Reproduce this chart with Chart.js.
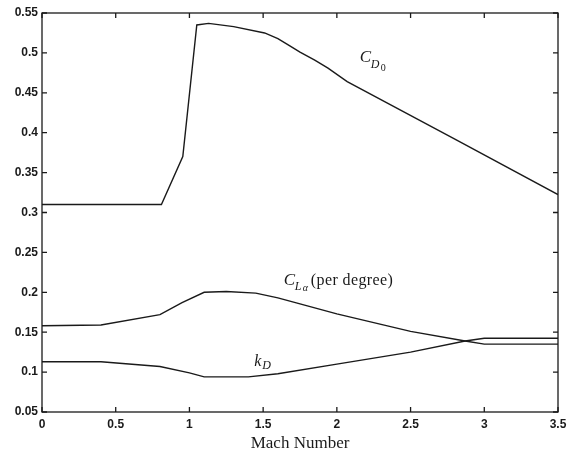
<!DOCTYPE html>
<html>
<head>
<meta charset="utf-8">
<script src="https://cdn.jsdelivr.net/npm/chart.js@4/dist/chart.umd.min.js"></script>
<style>
html,body{margin:0;padding:0;background:#fff;}
#wrap{width:569px;height:454px;}
</style>
</head>
<body>
<div id="wrap"><canvas id="c" width="569" height="454"></canvas></div>
<script>
// Data
const cd0Mach   = [0, 0.81, 0.955, 1.05, 1.13, 1.3, 1.51, 1.6, 1.67, 1.75, 1.85, 1.94, 2.07, 2.81, 3.5];
const cd0Values = [0.31, 0.31, 0.37, 0.535, 0.537, 0.533, 0.525, 0.518, 0.51, 0.501, 0.491, 0.481, 0.464, 0.391, 0.3225];

const claMach   = [0, 0.4, 0.8, 0.95, 1.1, 1.25, 1.45, 1.6, 1.8, 2.0, 2.5, 2.87, 3.0, 3.5];
const claValues = [0.158, 0.159, 0.172, 0.187, 0.2, 0.201, 0.199, 0.193, 0.183, 0.173, 0.151, 0.139, 0.135, 0.135];

const kdMach    = [0, 0.4, 0.8, 1.0, 1.1, 1.4, 1.6, 2.0, 2.5, 2.87, 3.0, 3.5];
const kdValues  = [0.113, 0.113, 0.107, 0.099, 0.094, 0.094, 0.098, 0.11, 0.125, 0.139, 0.1425, 0.1425];

const xTickLabels = ['0', '0.5', '1', '1.5', '2', '2.5', '3', '3.5'];
const yTickLabels = ['0.05', '0.1', '0.15', '0.2', '0.25', '0.3', '0.35', '0.4', '0.45', '0.5', '0.55'];

const pts = (xs, ys) => xs.map((x, i) => ({x: x, y: ys[i]}));

const lineStyle = {borderColor: '#1a1a1a', borderWidth: 1.4, pointRadius: 0, tension: 0, fill: false};

const framePlugin = {
  id: 'frame',
  afterDatasetsDraw(chart) {
    const {ctx, chartArea: a, scales} = chart;
    ctx.save();
    ctx.strokeStyle = '#1a1a1a';
    ctx.lineWidth = 1.3;
    ctx.strokeRect(a.left, a.top, a.right - a.left, a.bottom - a.top);
    const L = 5;
    ctx.beginPath();
    scales.x.ticks.forEach(t => {
      const px = scales.x.getPixelForValue(t.value);
      ctx.moveTo(px, a.bottom); ctx.lineTo(px, a.bottom - L);
      ctx.moveTo(px, a.top); ctx.lineTo(px, a.top + L);
    });
    scales.y.ticks.forEach(t => {
      const py = scales.y.getPixelForValue(t.value);
      ctx.moveTo(a.left, py); ctx.lineTo(a.left + L, py);
      ctx.moveTo(a.right, py); ctx.lineTo(a.right - L, py);
    });
    ctx.stroke();

    // curve labels
    const X = v => scales.x.getPixelForValue(v);
    const Y = v => scales.y.getPixelForValue(v);
    ctx.fillStyle = '#1a1a1a';
    ctx.textBaseline = 'alphabetic';
    ctx.textAlign = 'left';
    const serif = '"Liberation Serif", "DejaVu Serif", serif';
    // C_D0
    let x0 = X(2.155), y0 = Y(0.488);
    ctx.font = 'italic 17px ' + serif;
    ctx.fillText('C', x0, y0);
    ctx.font = 'italic 12px ' + serif;
    ctx.fillText('D', x0 + 11, y0 + 6);
    ctx.font = '10px ' + serif;
    ctx.fillText('0', x0 + 21, y0 + 9);
    // C_Lalpha (per degree)
    x0 = X(1.64); y0 = Y(0.2095);
    ctx.font = 'italic 17px ' + serif;
    ctx.fillText('C', x0, y0);
    ctx.font = 'italic 12px ' + serif;
    ctx.fillText('L', x0 + 11, y0 + 5);
    ctx.font = 'italic 10px ' + serif;
    ctx.fillText('\u03b1', x0 + 19, y0 + 6);
    ctx.font = '16px ' + serif;
    try { ctx.letterSpacing = '0.4px'; } catch (e) {}
    ctx.fillText('(per degree)', x0 + 27, y0);
    try { ctx.letterSpacing = '0px'; } catch (e) {}
    // k_D
    x0 = X(1.44); y0 = Y(0.1075);
    ctx.font = 'italic 16px ' + serif;
    ctx.fillText('k', x0, y0);
    ctx.font = 'italic 12px ' + serif;
    ctx.fillText('D', x0 + 8, y0 + 3);
    ctx.restore();
  }
};

new Chart(document.getElementById('c'), {
  type: 'line',
  data: {
    datasets: [
      Object.assign({label: 'CD0', data: pts(cd0Mach, cd0Values)}, lineStyle),
      Object.assign({label: 'CLa', data: pts(claMach, claValues)}, lineStyle),
      Object.assign({label: 'kD', data: pts(kdMach, kdValues)}, lineStyle)
    ]
  },
  options: {
    responsive: false,
    animation: false,
    events: [],
    layout: {padding: {top: 13, right: 11, left: 0, bottom: 0}},
    plugins: {legend: {display: false}, tooltip: {enabled: false}},
    scales: {
      x: {
        type: 'linear', min: 0, max: 3.5,
        border: {display: false},
        grid: {display: false, drawTicks: false},
        afterFit(s) { s.height = 42; s.paddingLeft = 0; s.paddingRight = 0; },
        ticks: {
          stepSize: 0.5, padding: 5, color: '#1a1a1a', maxRotation: 0, autoSkip: false,
          font: {family: '"Liberation Sans", Arial, sans-serif', size: 12, weight: 'bold'},
          callback: (v, i) => xTickLabels[i]
        },
        title: {
          display: true, text: 'Mach Number', color: '#1a1a1a',
          font: {family: '"Liberation Serif", serif', size: 17},
          padding: {top: 3, bottom: 0}
        }
      },
      y: {
        type: 'linear', min: 0.05, max: 0.55,
        border: {display: false},
        grid: {display: false, drawTicks: false},
        afterFit(s) { s.width = 42; s.paddingTop = 0; s.paddingBottom = 0; },
        ticks: {
          stepSize: 0.05, padding: 4, color: '#1a1a1a', autoSkip: false,
          font: {family: '"Liberation Sans", Arial, sans-serif', size: 12, weight: 'bold'},
          callback: (v, i) => yTickLabels[i]
        }
      }
    }
  },
  plugins: [framePlugin]
});
</script>
</body>
</html>
